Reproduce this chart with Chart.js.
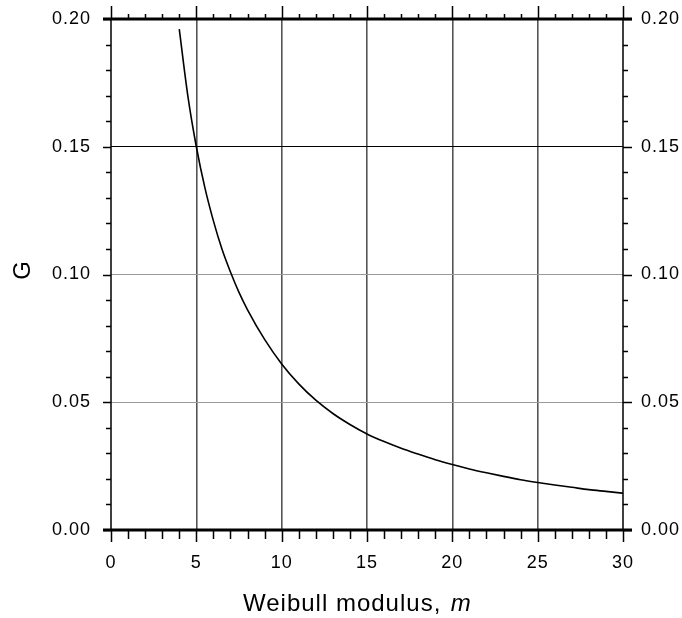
<!DOCTYPE html>
<html>
<head>
<meta charset="utf-8">
<script src="https://cdn.jsdelivr.net/npm/chart.js@4/dist/chart.umd.min.js"></script>
<style>
  html, body { margin: 0; padding: 0; background: #fff; }
  #wrap { width: 682px; height: 618px; }
</style>
</head>
<body>
<div id="wrap"><canvas id="chart" width="682" height="618"></canvas></div>
<script>
const modulus = [4, 4.5, 5, 5.5, 6, 6.5, 7, 7.5, 8, 9, 10, 11, 12, 13, 14, 15, 16, 17, 18, 19, 20, 21, 22, 23, 24, 25, 26, 27, 28, 29, 30];
const gValues = [0.196, 0.170, 0.150, 0.134, 0.121, 0.110, 0.101, 0.093, 0.0862, 0.0746, 0.065, 0.0572, 0.0508, 0.0456, 0.0413, 0.0376, 0.0346, 0.0320, 0.0297, 0.0275, 0.0256, 0.0239, 0.0224, 0.0210, 0.0197, 0.0186, 0.0176, 0.0167, 0.0158, 0.0151, 0.0144];
const xTicks = [0, 5, 10, 15, 20, 25, 30];
const yTicks = ['0.00', '0.05', '0.10', '0.15', '0.20'];

const FONT = "'Liberation Sans', Arial, sans-serif";

// minor/major tick marks on all four sides + frame + axis titles
const framePlugin = {
  id: 'frame',
  beforeDraw(chart) {
    chart.ctx.letterSpacing = '1px';
  },
  afterDraw(chart) {
    const { ctx, chartArea: a, scales } = chart;
    const x = scales.x, y = scales.y;
    ctx.save();
    ctx.strokeStyle = '#000';
    ctx.lineWidth = 1.5;
    for (let i = 0; i <= 30; i++) {
      const px = Math.round(x.getPixelForValue(i)) + 0.5;
      const major = i % 5 === 0;
      ctx.beginPath();
      ctx.moveTo(px, a.bottom);
      ctx.lineTo(px, a.bottom + (major ? 12 : 9));
      ctx.moveTo(px, a.top);
      ctx.lineTo(px, a.top - (major ? 13 : 5));
      ctx.stroke();
    }
    for (let j = 0; j <= 20; j++) {
      const py = Math.round(y.getPixelForValue(j / 100)) + 0.5;
      const major = j % 5 === 0;
      ctx.beginPath();
      ctx.moveTo(a.left, py);
      ctx.lineTo(a.left - (major ? 8 : 5), py);
      ctx.moveTo(a.right, py);
      ctx.lineTo(a.right + (major ? 9 : 5), py);
      ctx.stroke();
    }
    // side axes
    ctx.beginPath();
    ctx.moveTo(a.left, a.top);
    ctx.lineTo(a.left, a.bottom);
    ctx.moveTo(a.right, a.top);
    ctx.lineTo(a.right, a.bottom);
    ctx.stroke();
    // top & bottom axes, heavier
    ctx.lineWidth = 3;
    ctx.beginPath();
    ctx.moveTo(a.left - 8, a.top);
    ctx.lineTo(a.right + 9, a.top);
    ctx.moveTo(a.left - 8, a.bottom);
    ctx.lineTo(a.right + 9, a.bottom);
    ctx.stroke();

    // axis titles
    ctx.fillStyle = '#000';
    ctx.textBaseline = 'alphabetic';
    ctx.textAlign = 'left';
    ctx.font = '24px ' + FONT;
    const label = 'Weibull modulus,  ';
    ctx.fillText(label, 243, 611);
    const w = ctx.measureText(label).width;
    ctx.font = 'italic 24px ' + FONT;
    ctx.fillText('m', 243 + w - 6, 611);

    ctx.translate(23, 270);
    ctx.rotate(-Math.PI / 2);
    ctx.font = '24px ' + FONT;
    ctx.textAlign = 'center';
    ctx.textBaseline = 'middle';
    ctx.fillText('G', 0, 0);
    ctx.restore();
  }
};

const yGridColor = c => {
  const v = Math.round(c.tick.value * 100);
  if (v === 15) return '#000';
  if (v === 10 || v === 5) return '#999';
  return 'rgba(0,0,0,0)';
};

const noPad = s => {
  s.paddingTop = 0; s.paddingBottom = 0;
  s.paddingLeft = 0; s.paddingRight = 0;
};

new Chart(document.getElementById('chart').getContext('2d'), {
  type: 'line',
  data: {
    datasets: [{
      data: modulus.map((m, i) => ({ x: m, y: gValues[i] })),
      borderColor: '#000',
      borderWidth: 1.6,
      pointRadius: 0,
      cubicInterpolationMode: 'monotone',
      fill: false
    }]
  },
  options: {
    responsive: false,
    animation: false,
    layout: { padding: { top: 19, left: 0, right: 0, bottom: 0 } },
    plugins: {
      legend: { display: false },
      tooltip: { enabled: false }
    },
    scales: {
      x: {
        type: 'linear',
        position: 'bottom',
        min: 0,
        max: 30,
        afterFit: s => { s.height = 88; noPad(s); },
        afterBuildTicks: s => { s.ticks = xTicks.map(v => ({ value: v })); },
        ticks: {
          padding: 22,
          color: '#000',
          font: { size: 18, family: FONT },
          callback: v => String(v)
        },
        grid: {
          drawTicks: false,
          lineWidth: 1.6,
          color: c => (c.tick.value === 0 || c.tick.value === 30) ? 'rgba(0,0,0,0)' : '#555'
        },
        border: { display: false }
      },
      y: {
        position: 'left',
        min: 0,
        max: 0.2,
        afterFit: s => { s.width = 111; noPad(s); },
        afterBuildTicks: s => { s.ticks = yTicks.map(t => ({ value: parseFloat(t) })); },
        ticks: {
          padding: 20,
          color: '#000',
          font: { size: 18, family: FONT },
          callback: (v, i) => yTicks[i]
        },
        grid: { drawTicks: false, lineWidth: 1, color: yGridColor },
        border: { display: false }
      },
      y2: {
        position: 'right',
        min: 0,
        max: 0.2,
        afterFit: s => { s.width = 59; noPad(s); },
        afterBuildTicks: s => { s.ticks = yTicks.map(t => ({ value: parseFloat(t) })); },
        ticks: {
          padding: 18,
          color: '#000',
          font: { size: 18, family: FONT },
          callback: (v, i) => yTicks[i]
        },
        grid: { display: false, drawTicks: false },
        border: { display: false }
      }
    }
  },
  plugins: [framePlugin]
});
</script>
</body>
</html>
